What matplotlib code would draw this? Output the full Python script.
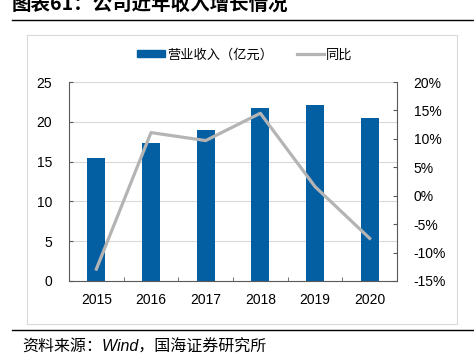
import matplotlib
matplotlib.use('Agg')
import matplotlib.pyplot as plt
from matplotlib.patches import Rectangle
from matplotlib.lines import Line2D
from matplotlib.ticker import FuncFormatter, MultipleLocator

plt.rcParams['font.family'] = ['Liberation Sans', 'Noto Sans CJK SC', 'DejaVu Sans']

years = ['2015', '2016', '2017', '2018', '2019', '2020']
revenue = [15.5, 17.3, 18.95, 21.7, 22.15, 20.45]      # 营业收入（亿元）
yoy = [-12.9, 11.1, 9.7, 14.5, 1.6, -7.5]               # 同比 (%)

bar_color = '#035EA2'
line_color = '#B4B4B4'
spine_color = '#595959'
grid_color = '#D9D9D9'

fig = plt.figure(figsize=(4.74, 3.56), dpi=100)
W, H = 474, 356

# outer light frame
fig.patches.append(Rectangle((27 / W, 1 - 324 / H), 430 / W, 289 / H,
                             transform=fig.transFigure, fill=False,
                             edgecolor=grid_color, linewidth=0.8))
# header / footer rules
fig.add_artist(Line2D([12 / W, 1], [1 - 20 / H] * 2, color='black', linewidth=1.0))
fig.add_artist(Line2D([12 / W, 1], [1 - 330 / H] * 2, color='black', linewidth=1.0))

fig.text(12 / W, 1 - 4 / H, '图表61：公司近年收入增长情况', fontsize=14, fontweight='bold',
         family=['Noto Sans CJK SC', 'DejaVu Sans'], va='center', ha='left')
fig.text(22 / W, 1 - 347 / H, '资料来源：Wind，国海证券研究所', fontsize=11.5, style='italic',
         family=['Liberation Sans', 'Noto Sans CJK SC'], va='center', ha='left')

ax = fig.add_axes([69 / W, 1 - 281 / H, 328 / W, 199 / H])
x = list(range(len(years)))
ax.bar(x, revenue, width=0.33, color=bar_color, zorder=2, label='营业收入（亿元）')
ax.set_xlim(-0.5, len(years) - 0.5)
ax.set_ylim(0, 25)
ax.yaxis.set_major_locator(MultipleLocator(5))
ax.grid(axis='y', color=grid_color, linewidth=0.8, zorder=0)
ax.set_axisbelow(True)
ax.set_xticks(x)
ax.set_xticklabels(years)
ax.set_xticks([i + 0.5 for i in range(-1, len(years))], minor=True)
ax.tick_params(axis='x', which='major', length=0, pad=9, labelsize=10)
ax.tick_params(axis='x', which='minor', direction='in', length=3, color=spine_color)
ax.tick_params(axis='y', direction='in', length=3, color=spine_color, pad=12, labelsize=10)
for s in ['top', 'right']:
    ax.spines[s].set_visible(False)
for s in ['left', 'bottom']:
    ax.spines[s].set_color(spine_color)
    ax.spines[s].set_linewidth(0.8)

ax2 = ax.twinx()
ax2.plot(x, yoy, color=line_color, linewidth=2.3, zorder=3, label='同比')
ax2.set_ylim(-15, 20)
ax2.yaxis.set_major_locator(MultipleLocator(5))
ax2.yaxis.set_major_formatter(FuncFormatter(lambda v, p: f'{v:.0f}%'))
ax2.tick_params(axis='y', direction='in', length=3, color=spine_color, pad=12, labelsize=10)
for s in ['top', 'left', 'bottom']:
    ax2.spines[s].set_visible(False)
ax2.spines['right'].set_color(spine_color)
ax2.spines['right'].set_linewidth(0.8)

handles = [Rectangle((0, 0), 1, 1, color=bar_color),
           Line2D([0], [0], color=line_color, linewidth=2.3)]
fig.legend(handles, ['营业收入（亿元）', '同比'], loc='center',
           bbox_to_anchor=(245 / W, 1 - 55 / H), ncol=2, frameon=False,
           prop={'family': ['Noto Sans CJK SC'], 'size': 9.5},
           handlelength=2.1, handleheight=0.45, handletextpad=0.15, columnspacing=1.8)

fig.savefig('out.png', dpi=100)
